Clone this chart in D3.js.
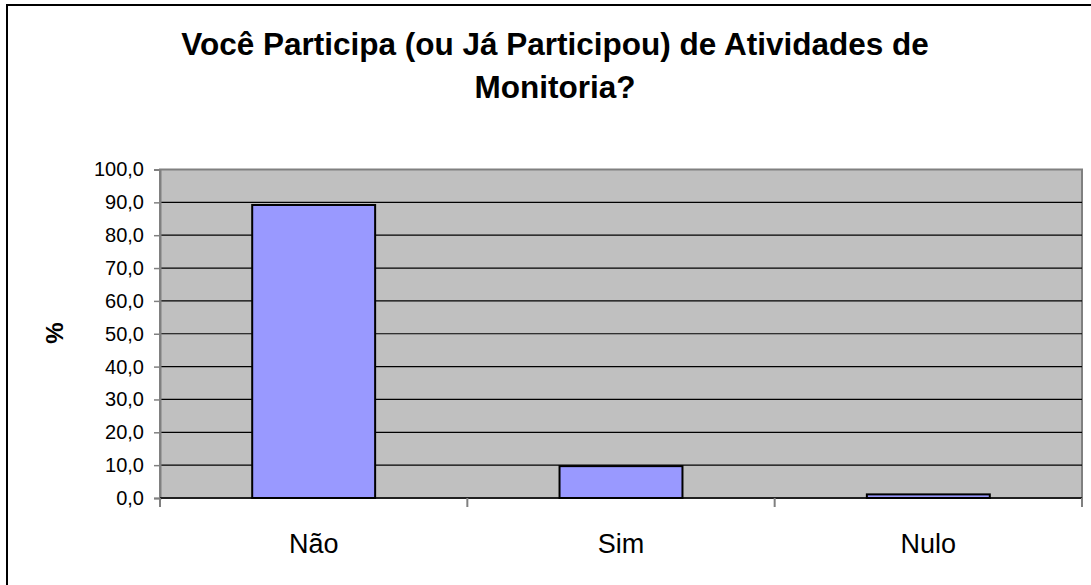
<!DOCTYPE html>
<html>
<head>
<meta charset="utf-8">
<script src="https://cdn.jsdelivr.net/npm/d3@7"></script>
<style>
  body { margin: 0; background: #fff; }
  svg { display: block; font-family: Arial, 'Liberation Sans', sans-serif; }
</style>
</head>
<body>
<div id="chart"></div>
<script>
const titleLines = ['Você Participa (ou Já Participou) de Atividades de', 'Monitoria?'];
const categories = ['Não', 'Sim', 'Nulo'];
const values = [89.2, 9.7, 1.1];
const yTicks = [0, 10, 20, 30, 40, 50, 60, 70, 80, 90, 100];
const yLabel = '%';

const WIDTH = 1091;
const HEIGHT = 585;
const LEFT = 160;
const RIGHT = 1082;
const TOP = 169.5;
const BOTTOM = 498;

const svg = d3.create('svg').attr('width', WIDTH).attr('height', HEIGHT);

// outer frame (right and bottom edges fall outside the picture)
svg
  .append('rect')
  .attr('x', 7)
  .attr('y', 5)
  .attr('width', WIDTH + 10)
  .attr('height', HEIGHT + 10)
  .attr('fill', '#fff')
  .attr('stroke', '#000')
  .attr('stroke-width', 2);

svg
  .append('text')
  .attr('text-anchor', 'middle')
  .attr('font-weight', 'bold')
  .attr('font-size', 31.5)
  .selectAll('tspan')
  .data(titleLines)
  .join('tspan')
  .attr('x', 555)
  .attr('y', (_, i) => 55 + i * 43)
  .text((d) => d);

const xScale = d3
  .scaleBand()
  .domain(categories)
  .range([LEFT, RIGHT])
  .paddingInner(0.6)
  .paddingOuter(0.3);
const xEdges = d3.scaleLinear().domain([0, categories.length]).range([LEFT, RIGHT]);
const yScale = d3.scaleLinear().domain([0, 100]).range([BOTTOM, TOP]);

svg
  .append('rect')
  .attr('x', LEFT)
  .attr('y', TOP)
  .attr('width', RIGHT - LEFT)
  .attr('height', BOTTOM - TOP)
  .attr('fill', '#c0c0c0')
  .attr('stroke', '#808080')
  .attr('stroke-width', 2);

svg
  .append('g')
  .selectAll('line')
  .data(yTicks.slice(1, -1))
  .join('line')
  .attr('x1', LEFT)
  .attr('x2', RIGHT)
  .attr('y1', (d) => yScale(d))
  .attr('y2', (d) => yScale(d))
  .attr('stroke', '#000')
  .attr('stroke-width', 1.2);

svg
  .append('g')
  .selectAll('rect')
  .data(values)
  .join('rect')
  .attr('x', (_, i) => xScale(categories[i]))
  .attr('y', (d) => yScale(d))
  .attr('width', xScale.bandwidth())
  .attr('height', (d) => BOTTOM - yScale(d))
  .attr('fill', '#9999ff')
  .attr('stroke', '#000')
  .attr('stroke-width', 2);

const axisLeft = d3
  .axisLeft(yScale)
  .tickValues(yTicks)
  .tickSize(6)
  .tickPadding(10)
  .tickFormat((d) => d.toFixed(1).replace('.', ','));

const yAxis = svg
  .append('g')
  .attr('transform', `translate(${LEFT}, 0)`)
  .call(axisLeft);
yAxis.select('.domain').attr('stroke', '#808080').attr('stroke-width', 2);
yAxis.selectAll('.tick line').attr('stroke', '#808080').attr('stroke-width', 1.5);
yAxis
  .selectAll('.tick text')
  .attr('font-size', 20)
  .attr('fill', '#000')
  .attr('font-family', "Arial, 'Liberation Sans', sans-serif");

// x axis line and boundary ticks
svg
  .append('line')
  .attr('x1', LEFT)
  .attr('x2', RIGHT)
  .attr('y1', BOTTOM)
  .attr('y2', BOTTOM)
  .attr('stroke', '#000')
  .attr('stroke-width', 1.5);
svg
  .append('g')
  .selectAll('line')
  .data(d3.range(categories.length + 1))
  .join('line')
  .attr('x1', (d) => xEdges(d))
  .attr('x2', (d) => xEdges(d))
  .attr('y1', BOTTOM)
  .attr('y2', BOTTOM + 9)
  .attr('stroke', '#808080')
  .attr('stroke-width', 2);

svg
  .append('g')
  .selectAll('text')
  .data(categories)
  .join('text')
  .attr('x', (d) => xScale(d) + xScale.bandwidth() / 2)
  .attr('y', 553)
  .attr('text-anchor', 'middle')
  .attr('font-size', 27)
  .text((d) => d);

svg
  .append('text')
  .attr('transform', 'translate(63, 333) rotate(-90)')
  .attr('text-anchor', 'middle')
  .attr('font-weight', 'bold')
  .attr('font-size', 24)
  .text(yLabel);

document.getElementById('chart').appendChild(svg.node());
</script>
</body>
</html>
